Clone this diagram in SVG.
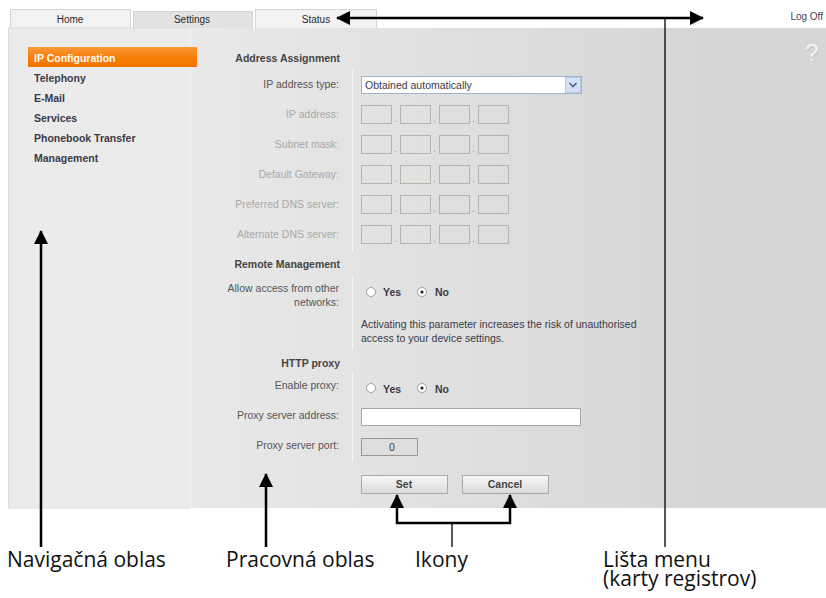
<svg xmlns="http://www.w3.org/2000/svg" width="826" height="598" viewBox="0 0 826 598">
<defs>
<style>
.ui{font-family:"Liberation Sans",Arial,sans-serif;font-size:10.5px;fill:#3a3a48}
.b{font-weight:bold}
.tab{font-size:10px;text-anchor:middle;fill:#2a2a2a}
.lbl{text-anchor:end;fill:#555}
.dis{text-anchor:end;fill:#a8a8a8}
.hd{font-weight:bold;text-anchor:end;fill:#444}
.nav{font-weight:bold;fill:#3a3a48}
.cap{font-family:"Open Sans","Noto Sans",sans-serif;font-size:21px;fill:#111}
.box{fill:none;stroke:#b4b4aa;stroke-width:1}
.vline{stroke:#f6f6f6;stroke-width:1}
.rad{fill:#fff;stroke:#8a8a8a;stroke-width:0.8}
.btn{fill:url(#btng);stroke:#a8a8a8;stroke-width:1}
.thick{stroke:#000;stroke-width:2.5;fill:none}
.thin{stroke:#000;stroke-width:1.3;fill:none}
</style>
<linearGradient id="cg" gradientUnits="userSpaceOnUse" x1="190" y1="0" x2="700" y2="0">
<stop offset="0" stop-color="#e9e9e9"/><stop offset="1" stop-color="#d6d6d6"/>
</linearGradient>
<linearGradient id="og" x1="0" y1="0" x2="0" y2="1">
<stop offset="0" stop-color="#fb9a3a"/><stop offset="0.5" stop-color="#f77f0a"/><stop offset="1" stop-color="#f27600"/>
</linearGradient>
<linearGradient id="btng" x1="0" y1="0" x2="0" y2="1">
<stop offset="0" stop-color="#f8f8f8"/><stop offset="1" stop-color="#dadada"/>
</linearGradient>
<marker id="ah" markerUnits="userSpaceOnUse" markerWidth="14" markerHeight="14" viewBox="0 0 14 14" refX="13" refY="7" orient="auto-start-reverse">
<path d="M0,0 L14,7 L0,14 z" fill="#000"/>
</marker>
</defs>
<rect x="0" y="0" width="826" height="598" fill="#fff"/>

<g id="tabs" class="ui">
<rect x="10.5" y="9.5" width="120" height="19" fill="#f2f2f2" stroke="#d4d4d4"/>
<text class="ui tab" x="70" y="23">Home</text>
<rect x="133.5" y="11.5" width="119" height="17" fill="#e2e2e2" stroke="#d4d4d4"/>
<text class="ui tab" x="192" y="23">Settings</text>
<rect x="255.5" y="9.5" width="121" height="19" fill="#f2f2f2" stroke="#d4d4d4"/>
<text class="ui tab" x="316" y="23">Status</text>
<text class="ui" x="823" y="20" text-anchor="end" style="font-size:10px;fill:#4a3c5a">Log Off</text>
</g>

<g id="panel">
<rect x="190" y="28" width="636" height="480" fill="url(#cg)"/>
<rect x="8.5" y="28" width="182" height="480" fill="#ebebeb" stroke="#dcdcdc"/>
<line x1="190.5" y1="28" x2="190.5" y2="508" stroke="#f4f4f4"/>
<text x="813" y="62" text-anchor="middle" style="font-family:'Liberation Sans',sans-serif;font-size:24px;fill:#c4c4c4">?</text>
<text x="812" y="61" text-anchor="middle" style="font-family:'Liberation Sans',sans-serif;font-size:24px;fill:#f6f6f6">?</text>
</g>

<g id="nav" class="ui">
<rect x="28" y="47" width="169" height="20" fill="url(#og)"/>
<text class="ui b" x="34" y="61.5" style="fill:#fff">IP Configuration</text>
<text class="ui nav" x="34" y="81.5">Telephony</text>
<text class="ui nav" x="34" y="101.5">E-Mail</text>
<text class="ui nav" x="34" y="121.5">Services</text>
<text class="ui nav" x="34" y="141.5">Phonebook Transfer</text>
<text class="ui nav" x="34" y="161.5">Management</text>
</g>

<g id="address-assignment" class="ui">
<text class="ui hd" x="340" y="62">Address Assignment</text>
<line class="vline" x1="352.5" y1="70" x2="352.5" y2="252"/>
<text class="ui lbl" x="339" y="88">IP address type:</text>
<rect x="361.5" y="76.5" width="220" height="17" fill="#fff" stroke="#9fb4cf"/>
<rect x="565.5" y="77.5" width="15" height="15" fill="#d3e0f3" stroke="#b8cae4"/>
<path d="M569.5,83 L573,86.5 L576.5,83" fill="none" stroke="#4d6185" stroke-width="1.6"/>
<text class="ui" x="365" y="89">Obtained automatically</text>
<text class="ui dis" x="339" y="118">IP address:</text>
<text class="ui dis" x="339" y="148">Subnet mask:</text>
<text class="ui dis" x="339" y="178">Default Gateway:</text>
<text class="ui dis" x="339" y="208">Preferred DNS server:</text>
<text class="ui dis" x="339" y="238">Alternate DNS server:</text>
<g id="ipboxes">
<g id="row1">
<rect class="box" x="361.5" y="105.5" width="30" height="18"/><rect class="box" x="400.5" y="105.5" width="30" height="18"/><rect class="box" x="439.5" y="105.5" width="30" height="18"/><rect class="box" x="478.5" y="105.5" width="30" height="18"/>
<text class="ui" x="394" y="122" style="fill:#999">.</text><text class="ui" x="433" y="122" style="fill:#999">.</text><text class="ui" x="472" y="122" style="fill:#999">.</text>
</g>
<use href="#row1" y="30"/>
<use href="#row1" y="60"/>
<use href="#row1" y="90"/>
<use href="#row1" y="120"/>
</g>
</g>

<g id="remote-management" class="ui">
<text class="ui hd" x="340" y="268">Remote Management</text>
<line class="vline" x1="352.5" y1="277" x2="352.5" y2="350"/>
<text class="ui lbl" x="339" y="292">Allow access from other</text>
<text class="ui lbl" x="339" y="306">networks:</text>
<circle class="rad" cx="371" cy="292" r="4.5"/>
<text class="ui b" x="383" y="296">Yes</text>
<circle class="rad" cx="422" cy="292" r="4.5"/>
<circle cx="422" cy="292" r="1.6" fill="#222"/>
<text class="ui b" x="435" y="296">No</text>
<text class="ui" x="361" y="328">Activating this parameter increases the risk of unauthorised</text>
<text class="ui" x="361" y="342">access to your device settings.</text>
</g>

<g id="http-proxy" class="ui">
<text class="ui hd" x="340" y="367">HTTP proxy</text>
<line class="vline" x1="352.5" y1="373" x2="352.5" y2="462"/>
<text class="ui lbl" x="339" y="389">Enable proxy:</text>
<circle class="rad" cx="371" cy="388" r="4.5"/>
<text class="ui b" x="383" y="393">Yes</text>
<circle class="rad" cx="422" cy="388" r="4.5"/>
<circle cx="422" cy="388" r="1.6" fill="#222"/>
<text class="ui b" x="435" y="393">No</text>
<text class="ui lbl" x="339" y="419">Proxy server address:</text>
<rect x="361.5" y="408.5" width="219" height="17" fill="#fff" stroke="#a8a8a0"/>
<text class="ui lbl" x="339" y="449">Proxy server port:</text>
<rect x="361.5" y="438.5" width="56" height="17" fill="#dedede" stroke="#9a9a92"/>
<text class="ui" x="392" y="451" text-anchor="middle">0</text>
</g>

<g id="buttons" class="ui">
<rect class="btn" x="361.5" y="475.5" width="86" height="18"/>
<text class="ui b" x="404" y="488" text-anchor="middle" style="fill:#444">Set</text>
<rect class="btn" x="462.5" y="475.5" width="86" height="18"/>
<text class="ui b" x="505" y="488" text-anchor="middle" style="fill:#444">Cancel</text>
</g>

<g id="connectors">
<line class="thick" x1="337" y1="18" x2="703" y2="18" marker-start="url(#ah)" marker-end="url(#ah)"/>
<line class="thin" x1="665" y1="18" x2="665" y2="547"/>
<line class="thick" x1="41" y1="547" x2="41" y2="231" marker-end="url(#ah)"/>
<line class="thick" x1="266" y1="547" x2="266" y2="474" marker-end="url(#ah)"/>
<polyline class="thick" points="397,495 397,523 510,523 510,495" marker-start="url(#ah)" marker-end="url(#ah)"/>
<line class="thin" x1="452" y1="523" x2="452" y2="547"/>
</g>

<g id="callouts">
<text class="cap" x="7" y="567">Navigačná oblas</text>
<text class="cap" x="226" y="567">Pracovná oblas</text>
<text class="cap" x="415" y="567">Ikony</text>
<text class="cap" x="603" y="567">Lišta menu<tspan x="603" y="586">(karty registrov)</tspan></text>
</g>
</svg>
